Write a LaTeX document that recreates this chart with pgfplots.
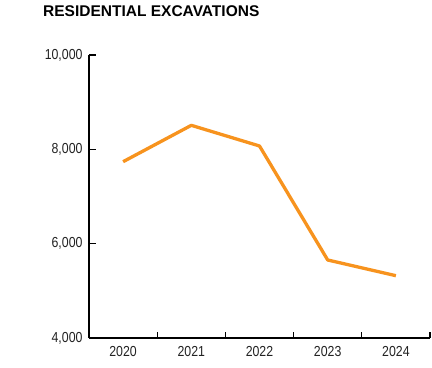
\documentclass[border=0pt]{standalone}
\usepackage{fontspec}
\setmainfont{Liberation Sans}
\newfontfamily\narrowfont{Liberation Sans}[FakeStretch=0.85]
\usepackage{pgfplots}
\pgfplotsset{compat=1.18}
\definecolor{lineorange}{HTML}{F7931E}
\definecolor{txt}{HTML}{222222}
\begin{document}
\begin{tikzpicture}
\begin{axis}[
  name=ax,
  scale only axis,
  width=341pt, height=283pt,
  xmin=-0.5, xmax=4.5,
  ymin=4000, ymax=10000,
  axis x line=bottom, axis y line=left,
  axis line style={-, line width=1.4pt, black},
  xtick={0.5,1.5,2.5,3.5,4.5},
  xticklabels={},
  extra x ticks={0,1,2,3,4},
  extra x tick labels={2020,2021,2022,2023,2024},
  extra x tick style={tick style={draw=none}, xticklabel style={yshift=-5pt}},
  ytick={4000,6000,8000,10000},
  tick align=inside,
  major tick length=6.5pt,
  every tick/.style={black, line width=1.2pt},
  tick label style={font=\narrowfont\fontsize{14.5}{16}\selectfont, text=txt},
  yticklabel style={xshift=-3pt},
  /pgf/number format/assume math mode=true,
  /pgf/number format/1000 sep={,},
  scaled y ticks=false,
  clip=false,
]
\addplot[lineorange, line width=3.3pt, line join=round] coordinates {
  (0,7738) (1,8509) (2,8071) (3,5654) (4,5321)
};
\end{axis}
\node[anchor=north west, inner sep=0pt, font=\bfseries\fontsize{15.5}{17}\selectfont] at ([xshift=-46pt, yshift=50pt]ax.north west) {RESIDENTIAL EXCAVATIONS};
\pgfresetboundingbox
\path ([xshift=-89pt, yshift=-29pt]ax.south west) rectangle ([xshift=2pt, yshift=55pt]ax.north east);
\end{tikzpicture}
\end{document}
